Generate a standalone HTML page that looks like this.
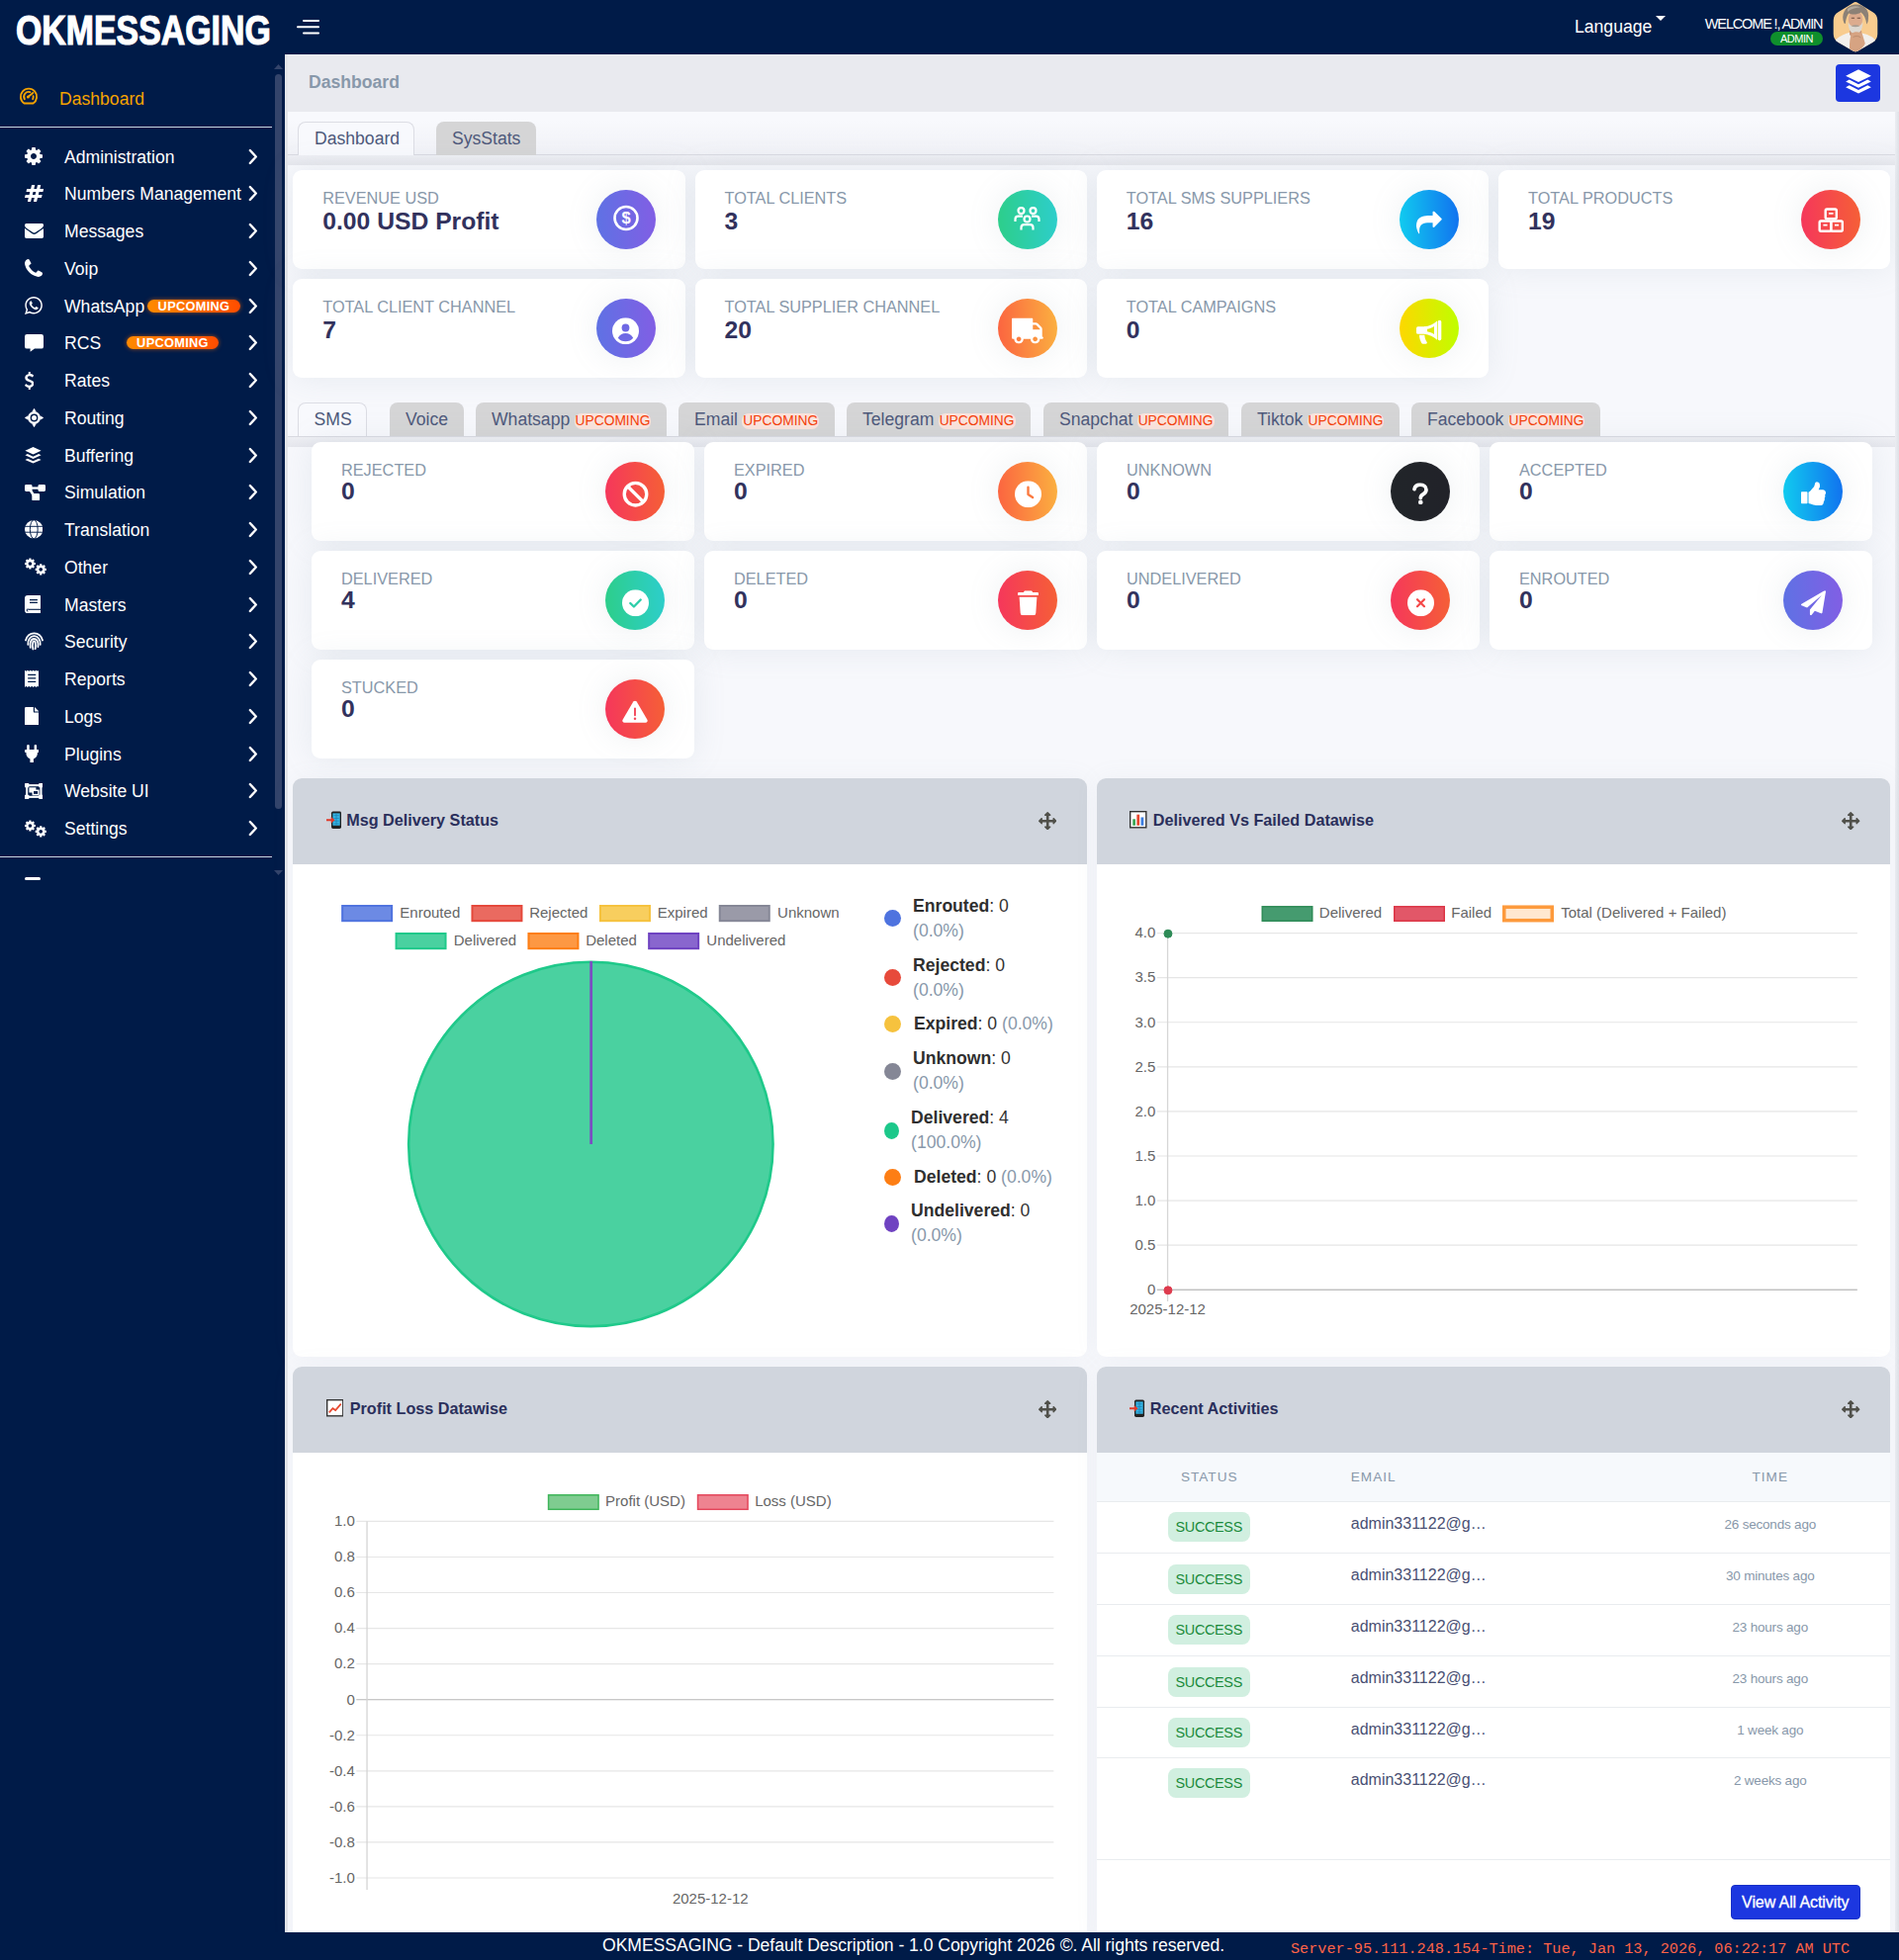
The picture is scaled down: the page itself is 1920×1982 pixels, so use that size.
<!DOCTYPE html>
<html lang="en"><head><meta charset="utf-8"><title>OKMESSAGING - Dashboard</title>
<style>

*{box-sizing:border-box}
html,body{margin:0;padding:0}
body{width:1920px;height:1982px;position:relative;overflow:hidden;background:#f7f8fc;font-family:"Liberation Sans",Arial,sans-serif;color:#2a2f5b}
.abs{position:absolute}
svg.ic{display:block}
#hdr{position:absolute;left:0;top:0;width:1920px;height:55px;background:#001b48}
#side{position:absolute;left:0;top:55px;width:288px;height:1900px;background:#001b48}
#foot{position:absolute;left:0;top:1954px;width:1920px;height:28px;background:#001b48;z-index:20}
#logo{position:absolute;left:16.300px;top:4.100px;font-weight:700;font-size:42.600px;line-height:52px;color:#fff;white-space:nowrap;transform-origin:0 50%;transform:scaleX(.795);-webkit-text-stroke:1.200px #fff}
.mi{position:absolute;left:0;width:276px;height:38px;color:#fff;font-size:17.6px;line-height:38px;white-space:nowrap}
.mi .t{position:absolute;left:65px;top:0}
.mi .i{position:absolute;left:24.800px;top:-.5px;height:38px;width:22px;display:flex;align-items:center;justify-content:flex-start}
.mi .c{position:absolute;left:251px;top:10px}
.up{position:absolute;top:12px;height:13px;border-radius:7px;background:linear-gradient(90deg,#ff8a00,#ff4d00);color:#fff;font-weight:700;font-size:12.8px;line-height:13.5px;text-align:center;letter-spacing:.3px;box-shadow:0 0 4px rgba(255,110,0,.6)}

#crumb{position:absolute;left:291px;top:55px;width:1629px;height:58px;background:#e9eaef}
#crumb .t{position:absolute;left:21px;top:17px;font-weight:700;font-size:17.6px;line-height:22px;color:#8898aa}
.tab{position:absolute;height:34px;border-radius:8px 8px 0 0;font-size:17.6px;line-height:34px;color:#4e597b;white-space:nowrap;padding:0 0 0 16px}
.tab.on{background:#f8f9fd;border:1px solid #dcdde4;border-bottom:0;height:34px;padding-left:16px;line-height:33px}
.tab.off{background:#d5d5d6}
.tab .u{display:inline-block;font-size:13.8px;line-height:15.5px;color:#f5400a;background:#fbe3dc;border-radius:7px;padding:0 1px;margin-left:4.3px;vertical-align:0}
.tline{position:absolute;left:291px;width:1625px;height:1px;background:#d9dae1}
#lstrip{position:absolute;left:288px;top:55px;width:3px;height:1900px;background:#e5e6ea}
#rstrip{position:absolute;left:1916px;top:113px;width:4px;height:1842px;background:linear-gradient(90deg,#eceef3,#dfe1e7)}
#topzone{position:absolute;left:291px;top:113px;width:1625px;height:44px;background:linear-gradient(#f8f9fd 20%,#f0f1f6)}
.tsh{position:absolute;left:291px;width:1625px;height:10px;background:linear-gradient(#eeeff4,#e6e7ed)}
.card{position:absolute;height:99.5px;background:#fff;border-radius:9px;box-shadow:0 0 32px rgba(136,152,170,.15)}
.card .l{position:absolute;left:30px;top:16.700px;font-size:16.3px;line-height:22px;color:#8898aa;white-space:nowrap}
.card .v{position:absolute;left:30px;top:36.700px;font-size:24.700px;line-height:30px;font-weight:700;color:#32325d;white-space:nowrap}
.card .o{position:absolute;right:30px;top:20px;width:60px;height:60px;border-radius:50%;display:flex;align-items:center;justify-content:center;box-shadow:0 0 32px rgba(136,152,170,.15)}
.card .o svg{display:block}
.g-pri{background:linear-gradient(87deg,#5e72e4,#825ee4)}
.g-suc{background:linear-gradient(87deg,#2dce89,#2dcecc)}
.g-inf{background:linear-gradient(87deg,#11cdef,#1171ef)}
.g-dan{background:linear-gradient(87deg,#f5365c,#f56036)}
.g-war{background:linear-gradient(87deg,#fb6340,#fbb140)}
.g-yel{background:linear-gradient(87deg,#ffd600,#beff00)}
.g-drk{background:linear-gradient(87deg,#212529,#212229)}

.pn{position:absolute;background:#fff;border-radius:9px;overflow:hidden;box-shadow:0 0 24px rgba(136,152,170,.07)}
.pn .h{position:absolute;left:0;top:0;width:100%;height:87px;background:#d0d5dd}
.pn .h .t{position:absolute;top:32.400px;font-weight:700;font-size:16.2px;line-height:20px;color:#2a2f5b;white-space:nowrap}
.pn .h .e{position:absolute;left:33.500px;top:33px}
.pn .h .m{position:absolute;right:30.600px;top:33.800px}
svg text{font-family:"Liberation Sans",Arial,sans-serif}
.lg{position:absolute;font-size:17.6px;line-height:25px;white-space:nowrap;color:#333}
.lg b{color:#2f2f2f}
.lg i{font-style:normal;color:#8898aa}
.dot{position:absolute;width:17px;height:17px;border-radius:50%}
.th{position:absolute;top:-.3px;height:50px;line-height:50px;font-size:13.6px;letter-spacing:1px;color:#8898aa;white-space:nowrap}
.tr{position:absolute;left:0;width:802px;height:52px;border-top:1px solid #e9ecef}
.bd{position:absolute;left:72px;top:10.3px;width:83px;height:30px;border-radius:8px;background:#d1efe0;color:#1a8a3a;font-size:14.4px;line-height:30px;text-align:center;letter-spacing:-.3px}
.em{position:absolute;left:257px;top:9.500px;font-size:16px;line-height:24px;color:#4a5073;white-space:nowrap}
.tm{position:absolute;left:581px;width:200px;top:12.800px;text-align:center;font-size:13.5px;line-height:20px;color:#8898aa;white-space:nowrap;letter-spacing:-.2px}

</style></head>
<body>
<div id="hdr">
<div id="logo">OKMESSAGING</div>
<svg class="abs" style="left:300px;top:20px" width="24" height="16" viewBox="0 0 24 16"><g fill="#fff"><rect x="6" y="0" width="17" height="2" rx="1"/><rect x="0" y="6.2" width="23" height="2.1" rx="1"/><rect x="6" y="12.4" width="17" height="2" rx="1"/></g></svg>
<div class="abs" style="left:1592px;top:16px;color:#fff;font-size:17.6px;line-height:22px;white-space:nowrap">Language</div>
<svg class="abs" style="left:1674px;top:16px" width="10" height="5" viewBox="0 0 10 5"><path d="M0 0h10L5 5z" fill="#fff"/></svg>
<div class="abs" style="left:1638.400px;width:204px;top:15px;color:#fff;font-size:14.5px;line-height:18px;text-align:right;white-space:nowrap;letter-spacing:-1.15px">WELCOME !, ADMIN</div>
<div class="abs" style="left:1790px;top:32px;width:53px;height:14px;border-radius:7px;background:#0f8f2c;color:#fff;font-size:11px;line-height:14.5px;text-align:center;letter-spacing:-.45px">ADMIN</div>
<svg class="abs" style="left:1853px;top:1px" width="46" height="53" viewBox="0 0 46 53">
<defs><clipPath id="hx"><path d="M20.500 1.900 Q23 .3 25.500 1.900 L40.500 11.300 Q45.300 14.200 45.300 19.800 L45.300 33.200 Q45.300 38.800 40.500 41.700 L25.500 50.400 Q23 51.900 20.500 50.400 L5.500 41.700 Q.7 38.800 .7 33.200 L.7 19.800 Q.7 14.200 5.500 11.300 Z"/></clipPath></defs>
<g clip-path="url(#hx)"><rect width="46" height="53" fill="#f8cc8f"/>
<path d="M0 53 L3 39 C8 35 13 33 17.500 31.800 L23 39 L29.500 32.500 C34 33.500 40 35.500 43 39.500 L46 53 Z" fill="#f2efec"/>
<path d="M17 30 L29 30 L30 36 L22 39 L17 34z" fill="#c9987a"/>
<ellipse cx="23" cy="18.500" rx="7.200" ry="9.300" fill="#dcab8e"/>
<path d="M11.500 22.500 C8 14 12 5 22 3.500 C31 2.500 37.500 9 36 17 C36 20 35.500 22 34.300 23.500 C33.500 17.500 31.500 13.500 28.500 11.500 C24 14.500 18.500 13.500 16.200 12.500 C14 15.500 13.200 19 12.800 23 Z" fill="#8c8176"/>
<path d="M15 8 C18 5 24 4.500 28 6.500 C24 6.500 19 7.500 15 11z" fill="#b3a99c"/>
<path d="M18.800 17.300h3.200M24.800 17.300h3.200" stroke="#6d5040" stroke-width="1.100"/>
<path d="M15.600 21 C15.600 30 19.200 33.300 23 33.300 C26.800 33.300 30.400 30 30.400 21 C29 24.800 26.500 25.800 23 25.800 C19.500 25.800 17 24.800 15.600 21Z" fill="#ddd8d1"/>
<path d="M18.500 25.300 Q23 23 27.500 25.300 Q23 27.200 18.500 25.300z" fill="#a79d92"/>
<path d="M19 33 C22 30.300 28 30.800 30 33.800 L32.800 43 C31 47.500 26 50.500 23 53 L17 53 C17 47 16.500 39 19 33Z" fill="#d6a382"/>
<path d="M20.500 36.500 C23 35 26.500 35.300 28.500 37" fill="none" stroke="#b78a6d" stroke-width=".9"/>
</g></svg>
</div>
<div id="side">
<div class="abs" style="left:278px;top:20px;width:7px;height:743px;border-radius:4px;background:#33446b"></div>
<svg class="abs" style="left:277px;top:10px" width="9" height="5" viewBox="0 0 9 5"><path d="M0 5h9L4.5 0z" fill="#33446b"/></svg>
<svg class="abs" style="left:277px;top:825px" width="9" height="5" viewBox="0 0 9 5"><path d="M0 0h9L4.5 5z" fill="#33446b"/></svg>
<svg class="abs" style="left:19px;top:33px" width="20" height="18" viewBox="0 0 20 18" fill="none" stroke="#f5a300" stroke-width="1.900" stroke-linecap="round"><path d="M5.450 16.450 A8.100 8.100 0 1 1 14.550 16.450 Z" stroke-linejoin="round"/><path d="M5.840 12.150 A4.800 4.800 0 0 1 11.400 5.150"/><path d="M14.600 9.200 A4.800 4.800 0 0 1 14.160 12.150"/><circle cx="9.400" cy="10" r="1.500" fill="#f5a300" stroke="none"/><path d="M9.600 9.800 L14.300 5.900" stroke-width="1.900"/></svg>
<div class="abs" style="left:60px;top:31.7px;color:#f5a300;font-size:17.6px;line-height:26px">Dashboard</div>
<div class="abs" style="left:0;top:72.6px;width:275px;height:1.2px;background:#cdd2de"></div>
<div class="mi" style="top:84.50px"><span class="i"><svg class="ic" width="18.00" height="18.00" viewBox="0 0 1536 1536" style=""><path fill="#fff" d="M1024 768C1024 909 909 1024 768 1024C627 1024 512 909 512 768C512 627 627 512 768 512C909 512 1024 627 1024 768ZM1536 659C1536 642 1524 626 1507 623L1324 595C1314 562 1300 529 1283 497C1317 450 1354 406 1388 360C1393 353 1396 346 1396 337C1396 329 1394 321 1389 315C1347 256 1277 194 1224 145C1217 139 1208 135 1199 135C1190 135 1181 138 1175 144L1033 251C1004 236 974 224 943 214L915 30C913 13 897 0 879 0H657C639 0 625 12 621 28C605 88 599 153 592 214C561 224 530 237 501 252L363 145C355 139 346 135 337 135C303 135 168 281 144 314C139 321 135 328 135 337C135 346 139 354 145 361C182 406 218 451 252 499C236 529 223 559 213 591L27 619C12 622 0 640 0 655V877C0 894 12 910 29 913L212 940C222 974 236 1007 253 1039C219 1086 182 1130 148 1176C143 1183 140 1190 140 1199C140 1207 142 1215 147 1222C189 1280 259 1342 312 1390C319 1397 328 1401 337 1401C346 1401 355 1398 362 1392L503 1285C532 1300 562 1312 593 1322L621 1506C623 1523 639 1536 657 1536H879C897 1536 911 1524 915 1508C931 1448 937 1383 944 1322C975 1312 1006 1299 1035 1284L1173 1392C1181 1397 1190 1401 1199 1401C1233 1401 1368 1254 1392 1222C1398 1215 1401 1208 1401 1199C1401 1190 1397 1181 1391 1174C1354 1129 1318 1085 1284 1036C1300 1007 1312 977 1323 945L1508 917C1524 914 1536 896 1536 881Z"/></svg></span><span class="t">Administration</span><svg class="c" width="10" height="17" viewBox="0 0 10 17" fill="none" stroke="#fff" stroke-width="2.3" stroke-linecap="round" stroke-linejoin="round"><path d="M1.800 2l6 6.500-6 6.500"/></svg></div>
<div class="mi" style="top:122.25px"><span class="i"><svg class="ic" width="19.12" height="17.00" viewBox="0 0 1727.5 1536" style=""><path fill="#fff" d="M958.8 896H704.8L768.8 640H1022.8ZM1726.8 392C1728.8 382 1726.8 372 1720.8 364C1714.8 357 1705.8 352 1695.8 352H1384.8L1462.8 40C1464.8 30 1462.8 20 1456.8 12C1450.8 5 1440.8 0 1431.8 0H1207.8C1192.8 0 1179.8 10 1175.8 24L1094.8 352H840.8L918.8 40C920.8 30 918.8 20 912.8 12C906.8 5 896.8 0 887.8 0H663.8C648.8 0 635.8 10 631.8 24L550.8 352H223.8C208.8 352 195.8 362 192.8 376L136.8 600C133.8 610 136.8 620 142.8 628C148.8 635 157.8 640 167.8 640H478.8L414.8 896H87.8C72.8 896 60.8 906 56.8 920L0.8 1144C-1.2 1154 0.8 1164 6.8 1172C12.8 1179 21.8 1184 31.8 1184H342.8L264.8 1496C262.8 1506 264.8 1516 270.8 1524C276.8 1531 286.8 1536 295.8 1536H520.8C534.8 1536 547.8 1526 551.8 1512L632.8 1184H886.8L808.8 1496C806.8 1506 808.8 1516 814.8 1524C820.8 1531 830.8 1536 840.8 1536H1064.8C1078.8 1536 1091.8 1526 1095.8 1512L1176.8 1184H1503.8C1518.8 1184 1531.8 1174 1534.8 1160L1590.8 936C1593.8 926 1590.8 916 1584.8 908C1578.8 901 1569.8 896 1559.8 896H1248.8L1312.8 640H1639.8C1654.8 640 1666.8 630 1670.8 616L1726.8 392Z"/></svg></span><span class="t">Numbers Management</span><svg class="c" width="10" height="17" viewBox="0 0 10 17" fill="none" stroke="#fff" stroke-width="2.3" stroke-linecap="round" stroke-linejoin="round"><path d="M1.800 2l6 6.500-6 6.500"/></svg></div>
<div class="mi" style="top:160.00px"><span class="i"><svg class="ic" width="19.09" height="15.00" viewBox="0 0 1792 1408" style=""><path fill="#fff" d="M1792 454C1762 487 1728 516 1692 541C1525 654 1357 768 1194 886C1110 948 1006 1024 897 1024H896H895C786 1024 682 948 598 886C435 767 267 654 101 541C64 516 30 487 0 454V1248C0 1336 72 1408 160 1408H1632C1720 1408 1792 1336 1792 1248ZM1792 160C1792 72 1719 0 1632 0H160C53 0 0 84 0 182C0 273 101 386 172 434C327 542 484 650 639 759C704 804 814 896 895 896H896H897C978 896 1088 804 1153 759C1308 650 1465 542 1621 434C1709 373 1792 272 1792 160Z"/></svg></span><span class="t">Messages</span><svg class="c" width="10" height="17" viewBox="0 0 10 17" fill="none" stroke="#fff" stroke-width="2.3" stroke-linecap="round" stroke-linejoin="round"><path d="M1.800 2l6 6.500-6 6.500"/></svg></div>
<div class="mi" style="top:197.75px"><span class="i"><svg class="ic" width="18.00" height="18.00" viewBox="0 0 1408 1408" style=""><path fill="#fff" d="M1408 1112C1408 1105 1408 1098 1405 1091C1398 1070 1349 1048 1329 1038C1272 1006 1214 975 1158 942C1132 926 1100 896 1069 896C1008 896 919 1077 865 1077C838 1077 803 1052 779 1038C597 937 471 811 370 629C356 605 331 570 331 543C331 489 512 400 512 339C512 308 482 276 466 250C433 194 402 136 370 79C360 59 338 10 317 3C310 0 303 0 296 0C260 0 190 16 157 31C108 52 76 108 51 153C19 212 0 272 0 339C0 432 38 516 69 601C91 662 118 721 152 776C257 946 462 1151 632 1256C687 1290 746 1317 807 1339C892 1370 976 1408 1069 1408C1136 1408 1196 1389 1255 1357C1300 1332 1356 1300 1377 1251C1392 1218 1408 1148 1408 1112Z"/></svg></span><span class="t">Voip</span><svg class="c" width="10" height="17" viewBox="0 0 10 17" fill="none" stroke="#fff" stroke-width="2.3" stroke-linecap="round" stroke-linejoin="round"><path d="M1.800 2l6 6.500-6 6.500"/></svg></div>
<div class="mi" style="top:235.50px"><span class="i"><svg class="ic" width="17.86" height="18.00" viewBox="0 0 1536 1548" style=""><path fill="#fff" d="M985 852C959 852 909 949 879 949C871 949 864 946 857 942C801 914 752 885 706 841C668 805 626 751 604 704C601 699 599 694 599 689C599 666 668 623 668 585C668 575 617 439 610 422C600 396 595 388 568 388C555 388 543 385 531 385C510 385 494 393 479 407C431 452 407 499 405 565V573C404 642 438 711 476 767C562 894 651 1005 794 1070C837 1090 936 1132 984 1132C1041 1132 1134 1096 1157 1040C1166 1017 1174 989 1174 964C1174 960 1174 954 1172 949C1165 937 1002 852 985 852ZM782 1382C660 1382 539 1345 437 1278L195 1355L274 1122C196 1015 154 886 154 754C154 408 436 126 782 126C1128 126 1410 408 1410 754C1410 1100 1128 1382 782 1382ZM782 0C366 0 28 338 28 754C28 891 65 1026 136 1143L0 1548L417 1414C529 1476 655 1508 782 1508C1198 1508 1536 1170 1536 754C1536 338 1198 0 782 0Z"/></svg></span><span class="t">WhatsApp</span><div class="up" style="left:149px;width:94px">UPCOMING</div><svg class="c" width="10" height="17" viewBox="0 0 10 17" fill="none" stroke="#fff" stroke-width="2.3" stroke-linecap="round" stroke-linejoin="round"><path d="M1.800 2l6 6.500-6 6.500"/></svg></div>
<div class="mi" style="top:273.25px"><span class="i"><svg class="ic" width="19" height="18" viewBox="0 0 19 18"><path fill="#fff" d="M2.2 0h14.6A2.2 2.2 0 0 1 19 2.2v10.2a2.2 2.2 0 0 1-2.2 2.2H10L5.6 17.8V14.6H2.2A2.2 2.2 0 0 1 0 12.4V2.2A2.2 2.2 0 0 1 2.2 0z"/></svg></span><span class="t">RCS</span><div class="up" style="left:128px;width:93px">UPCOMING</div><svg class="c" width="10" height="17" viewBox="0 0 10 17" fill="none" stroke="#fff" stroke-width="2.3" stroke-linecap="round" stroke-linejoin="round"><path d="M1.800 2l6 6.500-6 6.500"/></svg></div>
<div class="mi" style="top:311.00px"><span class="i"><svg class="ic" width="9.36" height="18.00" viewBox="0 0 932.2 1792" style=""><path fill="#fff" d="M932.2 1185C932.2 944 724.2 863 540.2 792C398.2 737 276.2 690 276.2 584C276.2 493 364.2 430 491.2 430C641.2 430 762.2 537 763.2 538C771.2 544 780.2 547 790.2 545C800.2 544 808.2 538 813.2 529L894.2 383C901.2 371 899.2 356 889.2 345C885.2 341 777.2 231 574.2 208V32C574.2 14 560.2 0 542.2 0H407.2C390.2 0 375.2 14 375.2 32V212C166.2 252 22.2 404 22.2 588C22.2 839 246.2 929 426.2 1000C561.2 1054 679.2 1101 679.2 1197C679.2 1310 573.2 1362 475.2 1362C298.2 1362 158.2 1228 156.2 1227C150.2 1220 141.2 1217 132.2 1218C123.2 1219 114.2 1223 109.2 1230L6.2 1365C-2.8 1377 -1.8 1394 8.2 1406C13.2 1412 141.2 1552 375.2 1585V1760C375.2 1778 390.2 1792 407.2 1792H542.2C560.2 1792 574.2 1778 574.2 1760V1585C786.2 1550 932.2 1389 932.2 1185Z"/></svg></span><span class="t">Rates</span><svg class="c" width="10" height="17" viewBox="0 0 10 17" fill="none" stroke="#fff" stroke-width="2.3" stroke-linecap="round" stroke-linejoin="round"><path d="M1.800 2l6 6.500-6 6.500"/></svg></div>
<div class="mi" style="top:348.75px"><span class="i"><svg class="ic" width="19" height="19" viewBox="0 0 19 19"><circle cx="9.500" cy="9.500" r="5.200" fill="none" stroke="#fff" stroke-width="2.600"/><circle cx="9.500" cy="9.500" r="2.500" fill="#fff"/><path d="M9.500 .2l1.700 3h-3.400zM9.500 18.800l1.700-3h-3.400zM.2 9.500l3-1.700v3.400zM18.800 9.500l-3-1.700v3.400z" fill="#fff" stroke="#fff" stroke-width=".6" stroke-linejoin="round"/></svg></span><span class="t">Routing</span><svg class="c" width="10" height="17" viewBox="0 0 10 17" fill="none" stroke="#fff" stroke-width="2.3" stroke-linecap="round" stroke-linejoin="round"><path d="M1.800 2l6 6.500-6 6.500"/></svg></div>
<div class="mi" style="top:386.50px"><span class="i"><svg class="ic" width="17" height="17" viewBox="0 0 17 17"><path fill="#fff" d="M8.5 0 16.6 3.7 8.5 7.4 .4 3.7z"/><path fill="#fff" d="M.4 8.3 2.9 7.1 8.5 9.7 14.1 7.1 16.6 8.3 8.5 12z"/><path fill="#fff" d="M.4 12.9 2.9 11.7 8.5 14.3 14.1 11.7 16.6 12.9 8.5 16.6z"/></svg></span><span class="t">Buffering</span><svg class="c" width="10" height="17" viewBox="0 0 10 17" fill="none" stroke="#fff" stroke-width="2.3" stroke-linecap="round" stroke-linejoin="round"><path d="M1.800 2l6 6.500-6 6.500"/></svg></div>
<div class="mi" style="top:424.25px"><span class="i"><svg class="ic" width="21" height="16.300" viewBox="0 0 21 16.300"><g fill="#fff"><rect x="0" y="0" width="7.500" height="7" rx="1.400"/><rect x="13.500" y="0" width="7.500" height="7" rx="1.400"/><rect x="7.300" y="9" width="7.800" height="7.300" rx="1.400"/><rect x="6" y="2.400" width="9" height="2.300"/><path d="M4.300 6 6.600 4.800 11.200 11.800 8.900 13z"/></g></svg></span><span class="t">Simulation</span><svg class="c" width="10" height="17" viewBox="0 0 10 17" fill="none" stroke="#fff" stroke-width="2.3" stroke-linecap="round" stroke-linejoin="round"><path d="M1.800 2l6 6.500-6 6.500"/></svg></div>
<div class="mi" style="top:462.00px"><span class="i"><svg class="ic" width="18.500" height="18.500" viewBox="0 0 18.500 18.500"><circle cx="9.250" cy="9.250" r="9.250" fill="#fff"/><g fill="none" stroke="#001b48" stroke-width=".95"><ellipse cx="9.250" cy="9.250" rx="3.900" ry="9.500"/><path d="M0 6.300h18.500M0 12.200h18.500"/></g></svg></span><span class="t">Translation</span><svg class="c" width="10" height="17" viewBox="0 0 10 17" fill="none" stroke="#fff" stroke-width="2.3" stroke-linecap="round" stroke-linejoin="round"><path d="M1.800 2l6 6.500-6 6.500"/></svg></div>
<div class="mi" style="top:499.75px"><span class="i"><svg class="ic" width="23.500" height="18" viewBox="0 0 23.500 18"><g transform="translate(0 0) scale(0.00755)"><path fill="#fff" d="M1024 768C1024 909 909 1024 768 1024C627 1024 512 909 512 768C512 627 627 512 768 512C909 512 1024 627 1024 768ZM1536 659C1536 642 1524 626 1507 623L1324 595C1314 562 1300 529 1283 497C1317 450 1354 406 1388 360C1393 353 1396 346 1396 337C1396 329 1394 321 1389 315C1347 256 1277 194 1224 145C1217 139 1208 135 1199 135C1190 135 1181 138 1175 144L1033 251C1004 236 974 224 943 214L915 30C913 13 897 0 879 0H657C639 0 625 12 621 28C605 88 599 153 592 214C561 224 530 237 501 252L363 145C355 139 346 135 337 135C303 135 168 281 144 314C139 321 135 328 135 337C135 346 139 354 145 361C182 406 218 451 252 499C236 529 223 559 213 591L27 619C12 622 0 640 0 655V877C0 894 12 910 29 913L212 940C222 974 236 1007 253 1039C219 1086 182 1130 148 1176C143 1183 140 1190 140 1199C140 1207 142 1215 147 1222C189 1280 259 1342 312 1390C319 1397 328 1401 337 1401C346 1401 355 1398 362 1392L503 1285C532 1300 562 1312 593 1322L621 1506C623 1523 639 1536 657 1536H879C897 1536 911 1524 915 1508C931 1448 937 1383 944 1322C975 1312 1006 1299 1035 1284L1173 1392C1181 1397 1190 1401 1199 1401C1233 1401 1368 1254 1392 1222C1398 1215 1401 1208 1401 1199C1401 1190 1397 1181 1391 1174C1354 1129 1318 1085 1284 1036C1300 1007 1312 977 1323 945L1508 917C1524 914 1536 896 1536 881Z"/></g><g transform="translate(11.400 6.100) scale(0.00775)"><path fill="#fff" d="M1024 768C1024 909 909 1024 768 1024C627 1024 512 909 512 768C512 627 627 512 768 512C909 512 1024 627 1024 768ZM1536 659C1536 642 1524 626 1507 623L1324 595C1314 562 1300 529 1283 497C1317 450 1354 406 1388 360C1393 353 1396 346 1396 337C1396 329 1394 321 1389 315C1347 256 1277 194 1224 145C1217 139 1208 135 1199 135C1190 135 1181 138 1175 144L1033 251C1004 236 974 224 943 214L915 30C913 13 897 0 879 0H657C639 0 625 12 621 28C605 88 599 153 592 214C561 224 530 237 501 252L363 145C355 139 346 135 337 135C303 135 168 281 144 314C139 321 135 328 135 337C135 346 139 354 145 361C182 406 218 451 252 499C236 529 223 559 213 591L27 619C12 622 0 640 0 655V877C0 894 12 910 29 913L212 940C222 974 236 1007 253 1039C219 1086 182 1130 148 1176C143 1183 140 1190 140 1199C140 1207 142 1215 147 1222C189 1280 259 1342 312 1390C319 1397 328 1401 337 1401C346 1401 355 1398 362 1392L503 1285C532 1300 562 1312 593 1322L621 1506C623 1523 639 1536 657 1536H879C897 1536 911 1524 915 1508C931 1448 937 1383 944 1322C975 1312 1006 1299 1035 1284L1173 1392C1181 1397 1190 1401 1199 1401C1233 1401 1368 1254 1392 1222C1398 1215 1401 1208 1401 1199C1401 1190 1397 1181 1391 1174C1354 1129 1318 1085 1284 1036C1300 1007 1312 977 1323 945L1508 917C1524 914 1536 896 1536 881Z"/></g></svg></span><span class="t">Other</span><svg class="c" width="10" height="17" viewBox="0 0 10 17" fill="none" stroke="#fff" stroke-width="2.3" stroke-linecap="round" stroke-linejoin="round"><path d="M1.800 2l6 6.500-6 6.500"/></svg></div>
<div class="mi" style="top:537.50px"><span class="i"><svg class="ic" width="16.300" height="18.200" viewBox="0 0 16.300 18.200"><path fill="#fff" d="M3 0h12.100a1.200 1.200 0 0 1 1.200 1.200V18.200H3a3 3 0 0 1-3-3V3a3 3 0 0 1 3-3z"/><path d="M3.300 14.300h13" stroke="#001b48" stroke-width="1.100"/><path d="M3.300 13.800a1.200 1.200 0 0 0 0 2.400" fill="none" stroke="#001b48" stroke-width="1"/><path d="M5 4.700h7.900M5 7.300h7.900" stroke="#001b48" stroke-width="1.200"/></svg></span><span class="t">Masters</span><svg class="c" width="10" height="17" viewBox="0 0 10 17" fill="none" stroke="#fff" stroke-width="2.3" stroke-linecap="round" stroke-linejoin="round"><path d="M1.800 2l6 6.500-6 6.500"/></svg></div>
<div class="mi" style="top:575.25px"><span class="i"><svg class="ic" width="19" height="18.600" viewBox="0 0 19 18" fill="none" stroke="#fff" stroke-width="1.800" stroke-linecap="round"><path d="M1 8.200C2.200 3.600 5.800 1 9.500 1s7.300 2.600 8.500 7.200"/><path d="M3.300 12.600c-.5-5 2.400-8.700 6.200-8.700s6.700 3.700 6.200 8.700"/><path d="M5.700 15.600c-.9-5.200.7-8.900 3.800-8.900s4.500 3.200 3.900 8.100"/><path d="M8.400 17.200c-.7-3-.6-5.300-.1-7.400.3-.9 2-.9 2.300 0 .5 2.100.6 4.400.1 7"/></svg></span><span class="t">Security</span><svg class="c" width="10" height="17" viewBox="0 0 10 17" fill="none" stroke="#fff" stroke-width="2.3" stroke-linecap="round" stroke-linejoin="round"><path d="M1.800 2l6 6.500-6 6.500"/></svg></div>
<div class="mi" style="top:613.00px"><span class="i"><svg class="ic" width="14.400" height="18.600" viewBox="0 0 15 18"><path fill="#fff" fill-rule="evenodd" d="M0 0l1.500 1.200L3 0l1.500 1.200L6 0l1.500 1.200L9 0l1.500 1.200L12 0l1.500 1.200L15 0v18l-1.500-1.200L12 18l-1.500-1.200L9 18l-1.500-1.200L6 18l-1.500-1.200L3 18l-1.500-1.200L0 18zM3.300 4.300v1.300h8.400V4.300zM3.300 7.900v1.300h8.400V7.900zM3.300 11.500v1.300h8.400v-1.300z"/></svg></span><span class="t">Reports</span><svg class="c" width="10" height="17" viewBox="0 0 10 17" fill="none" stroke="#fff" stroke-width="2.3" stroke-linecap="round" stroke-linejoin="round"><path d="M1.800 2l6 6.500-6 6.500"/></svg></div>
<div class="mi" style="top:650.75px"><span class="i"><svg class="ic" width="14.400" height="18.400" viewBox="0 0 14.400 18.400"><path fill="#fff" d="M1.300 0h7.500v4.400a1.200 1.200 0 0 0 1.200 1.200h4.400v11.500a1.300 1.300 0 0 1-1.300 1.300H1.300A1.300 1.300 0 0 1 0 17.100V1.300A1.300 1.300 0 0 1 1.300 0zM10 0l4.400 4.400H10.400a.4.400 0 0 1-.4-.4z"/></svg></span><span class="t">Logs</span><svg class="c" width="10" height="17" viewBox="0 0 10 17" fill="none" stroke="#fff" stroke-width="2.3" stroke-linecap="round" stroke-linejoin="round"><path d="M1.800 2l6 6.500-6 6.500"/></svg></div>
<div class="mi" style="top:688.50px"><span class="i"><svg class="ic" width="14.300" height="18.700" viewBox="0 0 14.300 18.700"><g fill="#fff"><rect x="2.200" y="0" width="2.500" height="6" rx="1.100"/><rect x="9.600" y="0" width="2.500" height="6" rx="1.100"/><rect x="0" y="4.900" width="14.300" height="3" rx=".9"/><path d="M1.500 7.500h11.300v1.800a5.650 5.200 0 0 1-11.300 0z"/><rect x="5.400" y="13" width="3.500" height="5.700" rx=".5"/></g></svg></span><span class="t">Plugins</span><svg class="c" width="10" height="17" viewBox="0 0 10 17" fill="none" stroke="#fff" stroke-width="2.3" stroke-linecap="round" stroke-linejoin="round"><path d="M1.800 2l6 6.500-6 6.500"/></svg></div>
<div class="mi" style="top:726.25px"><span class="i"><svg class="ic" width="18.600" height="16" viewBox="0 0 18.600 16"><g fill="#fff"><rect x="0" y="0" width="4.300" height="4.300" rx=".6"/><rect x="14.300" y="0" width="4.300" height="4.300" rx=".6"/><rect x="0" y="11.700" width="4.300" height="4.300" rx=".6"/><rect x="14.300" y="11.700" width="4.300" height="4.300" rx=".6"/><rect x="3" y="1.100" width="12" height="2.100"/><rect x="3" y="12.800" width="12" height="2.100"/><rect x="1.100" y="3" width="2.100" height="10"/><rect x="15.400" y="3" width="2.100" height="10"/><rect x="4.400" y="4.300" width="7" height="5.200"/></g><rect x="8.300" y="7.300" width="5.600" height="4.300" fill="#001b48" stroke="#fff" stroke-width="1.500"/></svg></span><span class="t">Website UI</span><svg class="c" width="10" height="17" viewBox="0 0 10 17" fill="none" stroke="#fff" stroke-width="2.3" stroke-linecap="round" stroke-linejoin="round"><path d="M1.800 2l6 6.500-6 6.500"/></svg></div>
<div class="mi" style="top:764.00px"><span class="i"><svg class="ic" width="23.500" height="18" viewBox="0 0 23.500 18"><g transform="translate(0 0) scale(0.00755)"><path fill="#fff" d="M1024 768C1024 909 909 1024 768 1024C627 1024 512 909 512 768C512 627 627 512 768 512C909 512 1024 627 1024 768ZM1536 659C1536 642 1524 626 1507 623L1324 595C1314 562 1300 529 1283 497C1317 450 1354 406 1388 360C1393 353 1396 346 1396 337C1396 329 1394 321 1389 315C1347 256 1277 194 1224 145C1217 139 1208 135 1199 135C1190 135 1181 138 1175 144L1033 251C1004 236 974 224 943 214L915 30C913 13 897 0 879 0H657C639 0 625 12 621 28C605 88 599 153 592 214C561 224 530 237 501 252L363 145C355 139 346 135 337 135C303 135 168 281 144 314C139 321 135 328 135 337C135 346 139 354 145 361C182 406 218 451 252 499C236 529 223 559 213 591L27 619C12 622 0 640 0 655V877C0 894 12 910 29 913L212 940C222 974 236 1007 253 1039C219 1086 182 1130 148 1176C143 1183 140 1190 140 1199C140 1207 142 1215 147 1222C189 1280 259 1342 312 1390C319 1397 328 1401 337 1401C346 1401 355 1398 362 1392L503 1285C532 1300 562 1312 593 1322L621 1506C623 1523 639 1536 657 1536H879C897 1536 911 1524 915 1508C931 1448 937 1383 944 1322C975 1312 1006 1299 1035 1284L1173 1392C1181 1397 1190 1401 1199 1401C1233 1401 1368 1254 1392 1222C1398 1215 1401 1208 1401 1199C1401 1190 1397 1181 1391 1174C1354 1129 1318 1085 1284 1036C1300 1007 1312 977 1323 945L1508 917C1524 914 1536 896 1536 881Z"/></g><g transform="translate(11.400 6.100) scale(0.00775)"><path fill="#fff" d="M1024 768C1024 909 909 1024 768 1024C627 1024 512 909 512 768C512 627 627 512 768 512C909 512 1024 627 1024 768ZM1536 659C1536 642 1524 626 1507 623L1324 595C1314 562 1300 529 1283 497C1317 450 1354 406 1388 360C1393 353 1396 346 1396 337C1396 329 1394 321 1389 315C1347 256 1277 194 1224 145C1217 139 1208 135 1199 135C1190 135 1181 138 1175 144L1033 251C1004 236 974 224 943 214L915 30C913 13 897 0 879 0H657C639 0 625 12 621 28C605 88 599 153 592 214C561 224 530 237 501 252L363 145C355 139 346 135 337 135C303 135 168 281 144 314C139 321 135 328 135 337C135 346 139 354 145 361C182 406 218 451 252 499C236 529 223 559 213 591L27 619C12 622 0 640 0 655V877C0 894 12 910 29 913L212 940C222 974 236 1007 253 1039C219 1086 182 1130 148 1176C143 1183 140 1190 140 1199C140 1207 142 1215 147 1222C189 1280 259 1342 312 1390C319 1397 328 1401 337 1401C346 1401 355 1398 362 1392L503 1285C532 1300 562 1312 593 1322L621 1506C623 1523 639 1536 657 1536H879C897 1536 911 1524 915 1508C931 1448 937 1383 944 1322C975 1312 1006 1299 1035 1284L1173 1392C1181 1397 1190 1401 1199 1401C1233 1401 1368 1254 1392 1222C1398 1215 1401 1208 1401 1199C1401 1190 1397 1181 1391 1174C1354 1129 1318 1085 1284 1036C1300 1007 1312 977 1323 945L1508 917C1524 914 1536 896 1536 881Z"/></g></svg></span><span class="t">Settings</span><svg class="c" width="10" height="17" viewBox="0 0 10 17" fill="none" stroke="#fff" stroke-width="2.3" stroke-linecap="round" stroke-linejoin="round"><path d="M1.800 2l6 6.500-6 6.500"/></svg></div>
<div class="abs" style="left:0;top:811px;width:275px;height:1.2px;background:#cdd2de"></div>
<div class="abs" style="left:25px;top:832px;width:16px;height:3px;border-radius:1.500px;background:#fff"></div>
</div>
<div id="foot">
<div class="abs" style="left:609px;top:2px;color:#fff;font-size:17.6px;line-height:22px;white-space:nowrap;letter-spacing:-.05px">OKMESSAGING - Default Description - 1.0 Copyright 2026 ©. All rights reserved.</div>
<div class="abs" style="left:1305px;top:7.700px;color:#ff6347;font-family:'Liberation Mono','Courier New',monospace;font-size:15.2px;line-height:18px;white-space:nowrap">Server-95.111.248.154-Time: Tue, Jan 13, 2026, 06:22:17 AM UTC</div>
</div>
<div id="lstrip"></div><div id="rstrip"></div><div id="topzone"></div><div class="tsh" style="top:157px"></div><div class="tsh" style="top:442px"></div>
<div id="crumb"><div class="t">Dashboard</div>
<div class="abs" style="left:1565px;top:10px;width:45px;height:38px;border-radius:4px;background:#1c37e0;display:flex;align-items:center;justify-content:center"><svg width="28" height="27" viewBox="0 0 25 24" style="transform:translateY(-1.300px)"><path fill="#fff" d="M12.5 0.500 24 6.200 12.500 11.900 1 6.200z"/><path fill="#fff" d="M1 11.300 4.200 9.700 12.500 13.800 20.800 9.700 24 11.300 12.500 17z"/><path fill="#fff" d="M1 16.400 4.200 14.800 12.500 18.900 20.800 14.800 24 16.400 12.500 22.100z"/></svg></div>
</div>
<div class="tline" style="top:156px"></div>
<div class="tab on" style="left:301px;top:123px;width:118px">Dashboard</div>
<div class="tab off" style="left:441px;top:123px;width:101px">SysStats</div>
<div class="card" style="left:296.25px;top:172px;width:396.25px"><div class="l">REVENUE USD</div><div class="v">0.00 USD Profit</div><div class="o g-pri"><span style="display:block;transform:translateY(-1.5px)"><svg width="28" height="28" viewBox="0 0 28 28"><circle cx="14" cy="14" r="11.500" fill="none" stroke="#fff" stroke-width="2.600"/><text x="14" y="19.500" text-anchor="middle" font-family="Liberation Sans,Arial,sans-serif" font-weight="700" font-size="16.500" fill="#fff">$</text></svg></span></div></div>
<div class="card" style="left:702.5px;top:172px;width:396.25px"><div class="l">TOTAL CLIENTS</div><div class="v">3</div><div class="o g-suc"><span style="display:block;transform:translateY(-1.5px)"><svg width="27" height="25" viewBox="0 0 27 25" fill="none" stroke="#fff" stroke-width="2.200"><circle cx="7.500" cy="4.600" r="3"/><circle cx="19.500" cy="4.600" r="3"/><circle cx="13.500" cy="13" r="3"/><path d="M1.500 15.500v-2.300a3 3 0 0 1 3-3h4.500"/><path d="M25.500 15.500v-2.300a3 3 0 0 0-3-3h-4.500"/><path d="M7.500 24v-2.300a3 3 0 0 1 3-3h6a3 3 0 0 1 3 3V24"/></svg></span></div></div>
<div class="card" style="left:1108.75px;top:172px;width:396.25px"><div class="l">TOTAL SMS SUPPLIERS</div><div class="v">16</div><div class="o g-inf"><span style="display:block;transform:translateY(2.4px)"><svg class="ic" width="25.76" height="23.00" viewBox="0 0 1792 1600" style=""><path fill="#fff" d="M1792 576C1792 559 1785 543 1773 531L1261 19C1249 7 1233 0 1216 0C1181 0 1152 29 1152 64V320H928C600 320 192 378 53 723C11 829 0 944 0 1056C0 1196 70 1379 127 1507C138 1530 149 1562 164 1583C171 1593 178 1600 192 1600C212 1600 224 1584 224 1565C224 1549 220 1531 219 1515C216 1474 214 1433 214 1392C214 915 497 832 928 832H1152V1088C1152 1123 1181 1152 1216 1152C1233 1152 1249 1145 1261 1133L1773 621C1785 609 1792 593 1792 576Z"/></svg></span></div></div>
<div class="card" style="left:1515px;top:172px;width:396.25px"><div class="l">TOTAL PRODUCTS</div><div class="v">19</div><div class="o g-dan"><span style="display:block;transform:translateY(0.1px)"><svg width="26.500" height="25" viewBox="0 0 28 27" fill="none" stroke="#fff" stroke-width="2.600" stroke-linejoin="round"><rect x="8" y="1.500" width="12" height="10.500" rx="1.500"/><rect x="1.500" y="14.500" width="12.500" height="11" rx="1.500"/><rect x="14" y="14.500" width="12.500" height="11" rx="1.500"/><path d="M11.500 6.200h5M5.500 19h4.500M18 19h4.500" stroke-width="2"/></svg></span></div></div>
<div class="card" style="left:296.25px;top:282.2px;width:396.25px"><div class="l">TOTAL CLIENT CHANNEL</div><div class="v">7</div><div class="o g-pri"><span style="display:block;transform:translateY(2.2px)"><svg width="27" height="27" viewBox="0 0 27 27"><circle cx="13.500" cy="13.500" r="13.500" fill="#fff"/><circle cx="13.500" cy="10.300" r="3.900" fill="#6f68e4"/><path d="M5.800 20.500c1.500-3.200 4.400-4.800 7.700-4.800s6.200 1.600 7.700 4.800c-1.800 2.300-4.600 3.600-7.700 3.600s-5.900-1.300-7.700-3.600z" fill="#6f68e4"/></svg></span></div></div>
<div class="card" style="left:702.5px;top:282.2px;width:396.25px"><div class="l">TOTAL SUPPLIER CHANNEL</div><div class="v">20</div><div class="o g-war"><span style="display:block;transform:translateY(2.5px)"><svg class="ic" width="31.91" height="26.00" viewBox="0 0 1728 1408" style="transform:scaleX(-1)"><path fill="#fff" d="M576 1152C576 1222 518 1280 448 1280C378 1280 320 1222 320 1152C320 1082 378 1024 448 1024C518 1024 576 1082 576 1152ZM192 640V610C192 606 198 591 201 588L396 393C399 390 414 384 418 384H576V640ZM1472 1152C1472 1222 1414 1280 1344 1280C1274 1280 1216 1222 1216 1152C1216 1082 1274 1024 1344 1024C1414 1024 1472 1082 1472 1152ZM1728 64C1728 29 1699 0 1664 0H640C605 0 576 29 576 64V256H416C380 256 332 276 307 301L109 499C54 554 64 633 64 704V1024C29 1024 0 1053 0 1088C0 1162 78 1152 128 1152H192C192 1293 307 1408 448 1408C589 1408 704 1293 704 1152H1088C1088 1293 1203 1408 1344 1408C1485 1408 1600 1293 1600 1152C1650 1152 1728 1162 1728 1088Z"/></svg></span></div></div>
<div class="card" style="left:1108.75px;top:282.2px;width:396.25px"><div class="l">TOTAL CAMPAIGNS</div><div class="v">0</div><div class="o g-yel"><span style="display:block;transform:translateY(3.8px)"><svg width="25.500" height="25" viewBox="0 0 25.500 25"><g fill="#fff"><path d="M1.600 6.500h7.400v7.500H1.600A1.600 1.600 0 0 1 0 12.400V8.100a1.600 1.600 0 0 1 1.600-1.600z"/><path d="M8 6.500C13 6 17.500 3.800 21 .6V20C17.500 16.800 13 14.500 8 14z M11 9v2.500c2.500.4 5 1.400 7 2.800V6.200c-2 1.400-4.500 2.400-7 2.800z" fill-rule="evenodd"/><rect x="21.700" y="0" width="3.600" height="20.600" rx="1.800"/><path d="M3 15h5.400c0 2.800.8 5 2.200 6.900.6.800.1 2-.9 2H6.600c-.5 0-1-.3-1.300-.8C4 20.800 3 18.200 3 15z"/></g></svg></span></div></div>
<div class="tline" style="top:441px"></div>
<div class="tab on" style="left:301.300px;top:407px;width:69.300px;padding-left:15.300px">SMS</div>
<div class="tab off" style="left:394px;top:407px;width:75px">Voice</div>
<div class="tab off" style="left:481px;top:407px;width:193px">Whatsapp<span class="u">UPCOMING</span></div>
<div class="tab off" style="left:686px;top:407px;width:158px">Email<span class="u">UPCOMING</span></div>
<div class="tab off" style="left:856px;top:407px;width:186px">Telegram<span class="u">UPCOMING</span></div>
<div class="tab off" style="left:1055px;top:407px;width:187px">Snapchat<span class="u">UPCOMING</span></div>
<div class="tab off" style="left:1255px;top:407px;width:160px">Tiktok<span class="u">UPCOMING</span></div>
<div class="tab off" style="left:1427px;top:407px;width:191px">Facebook<span class="u">UPCOMING</span></div>
<div class="card sm" style="left:315px;top:447px;width:387px"><div class="l">REJECTED</div><div class="v" style="top:35.100px">0</div><div class="o g-dan"><span style="display:block;transform:translateY(2.200px)"><svg width="27" height="27" viewBox="0 0 28 28" fill="none" stroke="#fff" stroke-width="3.500"><circle cx="14" cy="14" r="11.700"/><path d="M6 6l16 16"/></svg></span></div></div>
<div class="card sm" style="left:712px;top:447px;width:387px"><div class="l">EXPIRED</div><div class="v" style="top:35.100px">0</div><div class="o g-war"><span style="display:block;transform:translateY(2.200px)"><svg width="27" height="27" viewBox="0 0 27 27"><circle cx="13.500" cy="13.500" r="13.500" fill="#fff"/><path d="M13.500 6.500v7.400l4.600 3" fill="none" stroke="#fb7a40" stroke-width="2.400" stroke-linecap="round" stroke-linejoin="round"/></svg></span></div></div>
<div class="card sm" style="left:1109px;top:447px;width:387px"><div class="l">UNKNOWN</div><div class="v" style="top:35.100px">0</div><div class="o g-drk"><span style="display:block;transform:translateY(2.200px)"><svg width="18" height="22" viewBox="0 0 18 22"><path d="M3 6.500C3.600 3.600 6 2 9 2c3.500 0 6 2.100 6 5 0 2.300-1.300 3.500-3.200 4.600C10 12.700 9.300 13.500 9.300 15.300" fill="none" stroke="#fff" stroke-width="3.700" stroke-linecap="round"/><circle cx="9.300" cy="19.700" r="2.300" fill="#fff"/></svg></span></div></div>
<div class="card sm" style="left:1506px;top:447px;width:387px"><div class="l">ACCEPTED</div><div class="v" style="top:35.100px">0</div><div class="o g-inf"><span style="display:block;transform:translateY(2.200px)"><svg class="ic" width="25.00" height="24.00" viewBox="0 0 1600 1536" style=""><path fill="#fff" d="M416 704C416 669 387 640 352 640H64C29 640 0 669 0 704V1344C0 1379 29 1408 64 1408H352C387 1408 416 1379 416 1344ZM1600 704C1600 600 1512 512 1408 512H1131C1139 480 1149 470 1160 448C1187 396 1216 338 1216 256C1216 179 1216 0 992 0C975 0 959 7 947 19C904 61 892 123 881 182C869 240 858 300 819 339C788 370 754 413 718 459C674 517 578 636 541 639C508 642 480 670 480 703V1344C480 1379 510 1407 544 1408C579 1409 639 1430 702 1452C810 1489 945 1536 1088 1536H1105H1181C1199 1536 1213 1536 1217 1536C1305 1535 1371 1509 1414 1458C1452 1413 1469 1352 1463 1277C1488 1253 1507 1220 1517 1183C1528 1143 1528 1103 1517 1066C1547 1026 1562 979 1560 929C1560 915 1556 885 1545 853C1579 814 1600 757 1600 704Z"/></svg></span></div></div>
<div class="card sm" style="left:315px;top:557px;width:387px"><div class="l">DELIVERED</div><div class="v" style="top:35.100px">4</div><div class="o g-suc"><span style="display:block;transform:translateY(2.200px)"><svg width="27" height="27" viewBox="0 0 27 27"><circle cx="13.500" cy="13.500" r="13.500" fill="#fff"/><path d="M8.300 13.800l3.600 3.500 6.800-7" fill="none" stroke="#2dceaa" stroke-width="2.400" stroke-linecap="round" stroke-linejoin="round"/></svg></span></div></div>
<div class="card sm" style="left:712px;top:557px;width:387px"><div class="l">DELETED</div><div class="v" style="top:35.100px">0</div><div class="o g-dan"><span style="display:block;transform:translateY(2.200px)"><svg width="21" height="25" viewBox="0 0 21 25"><path fill="#fff" d="M7 0h7l1.200 1.700H20a1 1 0 0 1 1 1v1.600a.6.6 0 0 1-.6.6H.6a.6.6 0 0 1-.6-.6V2.700a1 1 0 0 1 1-1h4.800zM1.600 6.500h17.800l-1.100 16.300a2.300 2.300 0 0 1-2.300 2.200H5a2.300 2.300 0 0 1-2.300-2.200z"/></svg></span></div></div>
<div class="card sm" style="left:1109px;top:557px;width:387px"><div class="l">UNDELIVERED</div><div class="v" style="top:35.100px">0</div><div class="o g-dan"><span style="display:block;transform:translateY(2.200px)"><svg width="27" height="27" viewBox="0 0 27 27"><circle cx="13.500" cy="13.500" r="13.500" fill="#fff"/><path d="M10 10l7 7M17 10l-7 7" fill="none" stroke="#f54a4a" stroke-width="2.200" stroke-linecap="round"/></svg></span></div></div>
<div class="card sm" style="left:1506px;top:557px;width:387px"><div class="l">ENROUTED</div><div class="v" style="top:35.100px">0</div><div class="o g-pri"><span style="display:block;transform:translateY(2.200px)"><svg class="ic" width="25.00" height="25.00" viewBox="0 0 1791.9 1792" style=""><path fill="#fff" d="M1764.1 11C1754.1 4 1741.1 0 1728.1 0C1717.1 0 1706.1 3 1696.1 9L32.1 969C11.1 981 -0.9 1004 0.1 1028C2.1 1053 17.1 1074 40.1 1083L435.1 1245L1504.1 320L640.1 1379V1728C640.1 1755 657.1 1779 682.1 1788C689.1 1791 697.1 1792 704.1 1792C723.1 1792 741.1 1784 753.1 1769L995.1 1474L1448.1 1659C1456.1 1662 1464.1 1664 1472.1 1664C1483.1 1664 1494.1 1661 1503.1 1656C1520.1 1646 1532.1 1630 1535.1 1611L1791.1 75C1795.1 50 1785.1 26 1764.1 11Z"/></svg></span></div></div>
<div class="card sm" style="left:315px;top:667px;width:387px"><div class="l">STUCKED</div><div class="v" style="top:35.100px">0</div><div class="o g-dan"><span style="display:block;transform:translateY(2.200px)"><svg width="26" height="23" viewBox="0 0 26 23"><path d="M11.300 1.400a2 2 0 0 1 3.400 0l10.700 18.100a2 2 0 0 1-1.700 3H2.300a2 2 0 0 1-1.700-3z" fill="#fff"/><path d="M13 8.300v6.700" stroke="#f4475a" stroke-width="1.900" stroke-linecap="round"/><circle cx="13" cy="18.600" r="1.250" fill="#f4475a"/></svg></span></div></div>
<div class="pn" style="left:296.25px;top:787px;width:802.5px;height:584.5px"><div class="h"><span class="e"><svg width="15.500" height="18.500" viewBox="0 0 17 20"><rect x="5.500" y=".5" width="11" height="19" rx="1.800" fill="#222"/><rect x="7" y="2.500" width="8" height="13.500" fill="#35b6e6"/><path d="M8 5h6M8 8h6M8 11h6M8 14h6M11 2.500v13.500" stroke="#1d7fb0" stroke-width=".8"/><path d="M0 8.800h5.200V6.300l4.300 3.700-4.300 3.700v-2.500H0z" fill="#e03a2a"/></svg></span><span class="t" style="left:54px">Msg Delivery Status</span><span class="m"><svg class="ic" width="18.40" height="18.40" viewBox="0 0 1792 1792" style=""><path fill="#50504a" d="M1792 896C1792 879 1785 863 1773 851L1517 595C1505 583 1489 576 1472 576C1437 576 1408 605 1408 640V768H1024V384H1152C1187 384 1216 355 1216 320C1216 303 1209 287 1197 275L941 19C929 7 913 0 896 0C879 0 863 7 851 19L595 275C583 287 576 303 576 320C576 355 605 384 640 384H768V768H384V640C384 605 355 576 320 576C303 576 287 583 275 595L19 851C7 863 0 879 0 896C0 913 7 929 19 941L275 1197C287 1209 303 1216 320 1216C355 1216 384 1187 384 1152V1024H768V1408H640C605 1408 576 1437 576 1472C576 1489 583 1505 595 1517L851 1773C863 1785 879 1792 896 1792C913 1792 929 1785 941 1773L1197 1517C1209 1505 1216 1489 1216 1472C1216 1437 1187 1408 1152 1408H1024V1024H1408V1152C1408 1187 1437 1216 1472 1216C1489 1216 1505 1209 1517 1197L1773 941C1785 929 1792 913 1792 896Z"/></svg></span></div><svg class="abs" style="left:0;top:87px" width="560" height="497" viewBox="296.25 874 560 497"><rect x="346.4" y="916.0" width="50.0" height="15.2" fill="#6c8ae4" stroke="#4f73df" stroke-width="2"/><text x="404.6" y="927.700" font-size="15" fill="#666">Enrouted</text><rect x="477.7" y="916.0" width="50.0" height="15.2" fill="#ea6a60" stroke="#e5483b" stroke-width="2"/><text x="535.4" y="927.700" font-size="15" fill="#666">Rejected</text><rect x="607.2" y="916.0" width="50.0" height="15.2" fill="#f8ce5e" stroke="#f6c23e" stroke-width="2"/><text x="665" y="927.700" font-size="15" fill="#666">Expired</text><rect x="728.0" y="916.0" width="50.0" height="15.2" fill="#9a9aa8" stroke="#858796" stroke-width="2"/><text x="786.3" y="927.700" font-size="15" fill="#666">Unknown</text><rect x="400.8" y="944.0" width="50.0" height="15.2" fill="#4ad1a0" stroke="#1fc98a" stroke-width="2"/><text x="459" y="955.700" font-size="15" fill="#666">Delivered</text><rect x="534.7" y="944.0" width="50.0" height="15.2" fill="#fd9843" stroke="#fd7e14" stroke-width="2"/><text x="592.4" y="955.700" font-size="15" fill="#666">Deleted</text><rect x="656.4" y="944.0" width="50.0" height="15.2" fill="#8966ce" stroke="#6f42c1" stroke-width="2"/><text x="714.6" y="955.700" font-size="15" fill="#666">Undelivered</text><circle cx="597.600" cy="1157" r="184.200" fill="#4ad1a0" stroke="#1fc98a" stroke-width="2.600"/><path d="M597.900 972v185" stroke="#7a4fc2" stroke-width="2.800"/></svg><div class="dot" style="left:598.2px;top:133.0px;background:#4e73df"></div><div class="lg" style="left:626.8px;top:116.5px"><b>Enrouted</b>: 0<br><i>(0.0%)</i></div><div class="dot" style="left:598.2px;top:193.0px;background:#e74a3b"></div><div class="lg" style="left:626.8px;top:176.5px"><b>Rejected</b>: 0<br><i>(0.0%)</i></div><div class="dot" style="left:598.2px;top:240.0px;background:#f6c23e"></div><div class="lg" style="left:627.8px;top:236.0px"><b>Expired</b>: 0 <i>(0.0%)</i></div><div class="dot" style="left:598.2px;top:287.5px;background:#858796"></div><div class="lg" style="left:626.8px;top:271.0px"><b>Unknown</b>: 0<br><i>(0.0%)</i></div><div class="dot" style="left:598.2px;top:347.5px;background:#1cc88a;width:15px"></div><div class="lg" style="left:624.8px;top:331.0px"><b>Delivered</b>: 4<br><i>(100.0%)</i></div><div class="dot" style="left:598.2px;top:395.0px;background:#fd7e14"></div><div class="lg" style="left:627.8px;top:391.0px"><b>Deleted</b>: 0 <i>(0.0%)</i></div><div class="dot" style="left:598.2px;top:441.7px;background:#6f42c1;width:15px"></div><div class="lg" style="left:624.8px;top:425.2px"><b>Undelivered</b>: 0<br><i>(0.0%)</i></div></div>
<div class="pn" style="left:1108.75px;top:787px;width:802.5px;height:584.5px"><div class="h"><span class="e"><svg width="17.500" height="17.500" viewBox="0 0 19 19"><rect x=".75" y=".75" width="17.500" height="17.500" fill="#fff" stroke="#333" stroke-width="1.500"/><rect x="3.500" y="9" width="3" height="7" fill="#3aa655"/><rect x="8" y="4" width="3" height="12" fill="#e8472e"/><rect x="12.500" y="7" width="3" height="9" fill="#3b7de0"/></svg></span><span class="t" style="left:57px">Delivered Vs Failed Datawise</span><span class="m"><svg class="ic" width="18.40" height="18.40" viewBox="0 0 1792 1792" style=""><path fill="#50504a" d="M1792 896C1792 879 1785 863 1773 851L1517 595C1505 583 1489 576 1472 576C1437 576 1408 605 1408 640V768H1024V384H1152C1187 384 1216 355 1216 320C1216 303 1209 287 1197 275L941 19C929 7 913 0 896 0C879 0 863 7 851 19L595 275C583 287 576 303 576 320C576 355 605 384 640 384H768V768H384V640C384 605 355 576 320 576C303 576 287 583 275 595L19 851C7 863 0 879 0 896C0 913 7 929 19 941L275 1197C287 1209 303 1216 320 1216C355 1216 384 1187 384 1152V1024H768V1408H640C605 1408 576 1437 576 1472C576 1489 583 1505 595 1517L851 1773C863 1785 879 1792 896 1792C913 1792 929 1785 941 1773L1197 1517C1209 1505 1216 1489 1216 1472C1216 1437 1187 1408 1152 1408H1024V1024H1408V1152C1408 1187 1437 1216 1472 1216C1489 1216 1505 1209 1517 1197L1773 941C1785 929 1792 913 1792 896Z"/></svg></span></div><svg class="abs" style="left:0;top:87px" width="802" height="497" viewBox="1108.75 874 802 497"><rect x="1276.0" y="916.8" width="50.5" height="14.5" fill="#459b6f" stroke="#2e8b57" stroke-width="1.5"/><text x="1333.600" y="927.700" font-size="15" fill="#666">Delivered</text><rect x="1409.5" y="916.8" width="50.5" height="14.5" fill="#e25768" stroke="#dc3545" stroke-width="1.5"/><text x="1467" y="927.700" font-size="15" fill="#666">Failed</text><rect x="1520.5" y="917.2" width="48.5" height="13.5" fill="#ffe8d0" stroke="#fd9a3c" stroke-width="3.5"/><text x="1578" y="927.700" font-size="15" fill="#666">Total (Delivered + Failed)</text><path d="M1169.500 943.60H1877.600" stroke="#e6e6e6" stroke-width="1.15"/><text x="1168" y="948.40" font-size="15" fill="#666" text-anchor="end">4.0</text><path d="M1169.500 988.68H1877.600" stroke="#e6e6e6" stroke-width="1.15"/><text x="1168" y="993.48" font-size="15" fill="#666" text-anchor="end">3.5</text><path d="M1169.500 1033.75H1877.600" stroke="#e6e6e6" stroke-width="1.15"/><text x="1168" y="1038.55" font-size="15" fill="#666" text-anchor="end">3.0</text><path d="M1169.500 1078.83H1877.600" stroke="#e6e6e6" stroke-width="1.15"/><text x="1168" y="1083.62" font-size="15" fill="#666" text-anchor="end">2.5</text><path d="M1169.500 1123.90H1877.600" stroke="#e6e6e6" stroke-width="1.15"/><text x="1168" y="1128.70" font-size="15" fill="#666" text-anchor="end">2.0</text><path d="M1169.500 1168.97H1877.600" stroke="#e6e6e6" stroke-width="1.15"/><text x="1168" y="1173.77" font-size="15" fill="#666" text-anchor="end">1.5</text><path d="M1169.500 1214.05H1877.600" stroke="#e6e6e6" stroke-width="1.15"/><text x="1168" y="1218.85" font-size="15" fill="#666" text-anchor="end">1.0</text><path d="M1169.500 1259.12H1877.600" stroke="#e6e6e6" stroke-width="1.15"/><text x="1168" y="1263.92" font-size="15" fill="#666" text-anchor="end">0.5</text><path d="M1169.500 1304.20H1877.600" stroke="#a4a4a4" stroke-width="1"/><text x="1168" y="1309.00" font-size="15" fill="#666" text-anchor="end">0</text><path d="M1180.300 943.600V1316" stroke="#d6d6d6" stroke-width="1.300"/><circle cx="1180.700" cy="944.200" r="4" fill="#2e8b57" stroke="#2e8b57"/><circle cx="1180.700" cy="1304.800" r="4" fill="#de3b4e" stroke="#de3b4e"/><text x="1180.300" y="1329.200" font-size="15" fill="#666" text-anchor="middle">2025-12-12</text></svg></div>
<div class="pn" style="left:296.25px;top:1382px;width:802.5px;height:584.5px"><div class="h"><span class="e"><svg width="17.500" height="17.500" viewBox="0 0 19 19"><rect x=".75" y=".75" width="17.500" height="17.500" fill="#fff" stroke="#333" stroke-width="1.500"/><path d="M3 14.500l4-4.500 3 2 6-7" fill="none" stroke="#e8472e" stroke-width="1.800"/></svg></span><span class="t" style="left:57.5px">Profit Loss Datawise</span><span class="m"><svg class="ic" width="18.40" height="18.40" viewBox="0 0 1792 1792" style=""><path fill="#50504a" d="M1792 896C1792 879 1785 863 1773 851L1517 595C1505 583 1489 576 1472 576C1437 576 1408 605 1408 640V768H1024V384H1152C1187 384 1216 355 1216 320C1216 303 1209 287 1197 275L941 19C929 7 913 0 896 0C879 0 863 7 851 19L595 275C583 287 576 303 576 320C576 355 605 384 640 384H768V768H384V640C384 605 355 576 320 576C303 576 287 583 275 595L19 851C7 863 0 879 0 896C0 913 7 929 19 941L275 1197C287 1209 303 1216 320 1216C355 1216 384 1187 384 1152V1024H768V1408H640C605 1408 576 1437 576 1472C576 1489 583 1505 595 1517L851 1773C863 1785 879 1792 896 1792C913 1792 929 1785 941 1773L1197 1517C1209 1505 1216 1489 1216 1472C1216 1437 1187 1408 1152 1408H1024V1024H1408V1152C1408 1187 1437 1216 1472 1216C1489 1216 1505 1209 1517 1197L1773 941C1785 929 1792 913 1792 896Z"/></svg></span></div><svg class="abs" style="left:0;top:87px" width="802" height="497" viewBox="296.25 1469 802 497"><rect x="554.8" y="1511.8" width="50.5" height="14.5" fill="#7fcc90" stroke="#3fb55a" stroke-width="1.5"/><text x="612.300" y="1522.700" font-size="15" fill="#666">Profit (USD)</text><rect x="705.8" y="1511.8" width="50.5" height="14.5" fill="#ee8390" stroke="#e4475b" stroke-width="1.5"/><text x="763.400" y="1522.700" font-size="15" fill="#666">Loss (USD)</text><path d="M360.500 1538.40H1065.600" stroke="#e6e6e6" stroke-width="1.15"/><text x="359" y="1543.20" font-size="15" fill="#666" text-anchor="end">1.0</text><path d="M360.500 1574.46H1065.600" stroke="#e6e6e6" stroke-width="1.15"/><text x="359" y="1579.26" font-size="15" fill="#666" text-anchor="end">0.8</text><path d="M360.500 1610.52H1065.600" stroke="#e6e6e6" stroke-width="1.15"/><text x="359" y="1615.32" font-size="15" fill="#666" text-anchor="end">0.6</text><path d="M360.500 1646.58H1065.600" stroke="#e6e6e6" stroke-width="1.15"/><text x="359" y="1651.38" font-size="15" fill="#666" text-anchor="end">0.4</text><path d="M360.500 1682.64H1065.600" stroke="#e6e6e6" stroke-width="1.15"/><text x="359" y="1687.44" font-size="15" fill="#666" text-anchor="end">0.2</text><path d="M360.500 1718.70H1065.600" stroke="#b4b4b4" stroke-width="1.1"/><text x="359" y="1723.50" font-size="15" fill="#666" text-anchor="end">0</text><path d="M360.500 1754.76H1065.600" stroke="#e6e6e6" stroke-width="1.15"/><text x="359" y="1759.56" font-size="15" fill="#666" text-anchor="end">-0.2</text><path d="M360.500 1790.82H1065.600" stroke="#e6e6e6" stroke-width="1.15"/><text x="359" y="1795.62" font-size="15" fill="#666" text-anchor="end">-0.4</text><path d="M360.500 1826.88H1065.600" stroke="#e6e6e6" stroke-width="1.15"/><text x="359" y="1831.68" font-size="15" fill="#666" text-anchor="end">-0.6</text><path d="M360.500 1862.94H1065.600" stroke="#e6e6e6" stroke-width="1.15"/><text x="359" y="1867.74" font-size="15" fill="#666" text-anchor="end">-0.8</text><path d="M360.500 1899.00H1065.600" stroke="#e6e6e6" stroke-width="1.15"/><text x="359" y="1903.80" font-size="15" fill="#666" text-anchor="end">-1.0</text><path d="M371.300 1538.400V1911" stroke="#d4d4d4" stroke-width="1.300"/><text x="718.500" y="1925.200" font-size="15" fill="#666" text-anchor="middle">2025-12-12</text></svg></div>
<div class="pn" style="left:1108.75px;top:1382px;width:802.5px;height:584.5px"><div class="h"><span class="e"><svg width="15.500" height="18.500" viewBox="0 0 17 20"><rect x="5.500" y=".5" width="11" height="19" rx="1.800" fill="#222"/><rect x="7" y="2.500" width="8" height="13.500" fill="#35b6e6"/><path d="M8 5h6M8 8h6M8 11h6M8 14h6M11 2.500v13.500" stroke="#1d7fb0" stroke-width=".8"/><path d="M0 8.800h5.200V6.300l4.300 3.700-4.300 3.700v-2.500H0z" fill="#e03a2a"/></svg></span><span class="t" style="left:54px">Recent Activities</span><span class="m"><svg class="ic" width="18.40" height="18.40" viewBox="0 0 1792 1792" style=""><path fill="#50504a" d="M1792 896C1792 879 1785 863 1773 851L1517 595C1505 583 1489 576 1472 576C1437 576 1408 605 1408 640V768H1024V384H1152C1187 384 1216 355 1216 320C1216 303 1209 287 1197 275L941 19C929 7 913 0 896 0C879 0 863 7 851 19L595 275C583 287 576 303 576 320C576 355 605 384 640 384H768V768H384V640C384 605 355 576 320 576C303 576 287 583 275 595L19 851C7 863 0 879 0 896C0 913 7 929 19 941L275 1197C287 1209 303 1216 320 1216C355 1216 384 1187 384 1152V1024H768V1408H640C605 1408 576 1437 576 1472C576 1489 583 1505 595 1517L851 1773C863 1785 879 1792 896 1792C913 1792 929 1785 941 1773L1197 1517C1209 1505 1216 1489 1216 1472C1216 1437 1187 1408 1152 1408H1024V1024H1408V1152C1408 1187 1437 1216 1472 1216C1489 1216 1505 1209 1517 1197L1773 941C1785 929 1792 913 1792 896Z"/></svg></span></div><div class="abs" style="left:0;top:87px;width:802px;height:49px;background:#f6f9fc"><div class="th" style="left:14px;width:200px;text-align:center">STATUS</div><div class="th" style="left:257px">EMAIL</div><div class="th" style="left:581px;width:200px;text-align:center">TIME</div></div><div class="tr" style="top:136px"><div class="bd">SUCCESS</div><div class="em">admin331122@g…</div><div class="tm">26 seconds ago</div></div><div class="tr" style="top:188.3px"><div class="bd">SUCCESS</div><div class="em">admin331122@g…</div><div class="tm">30 minutes ago</div></div><div class="tr" style="top:240px"><div class="bd">SUCCESS</div><div class="em">admin331122@g…</div><div class="tm">23 hours ago</div></div><div class="tr" style="top:292.4px"><div class="bd">SUCCESS</div><div class="em">admin331122@g…</div><div class="tm">23 hours ago</div></div><div class="tr" style="top:344px"><div class="bd">SUCCESS</div><div class="em">admin331122@g…</div><div class="tm">1 week ago</div></div><div class="tr" style="top:395px"><div class="bd">SUCCESS</div><div class="em">admin331122@g…</div><div class="tm">2 weeks ago</div></div><div class="abs" style="left:0;top:498px;width:802px;height:1px;background:#e9ecef"></div><div class="abs" style="left:641px;top:524px;width:131px;height:35px;border-radius:4px;background:#1c37e0;border:1px solid #1730c8;color:#fff;font-size:16px;line-height:33px;text-align:center;white-space:nowrap;letter-spacing:-.1px;-webkit-text-stroke:.3px #fff">View All Activity</div></div>
</body></html>
